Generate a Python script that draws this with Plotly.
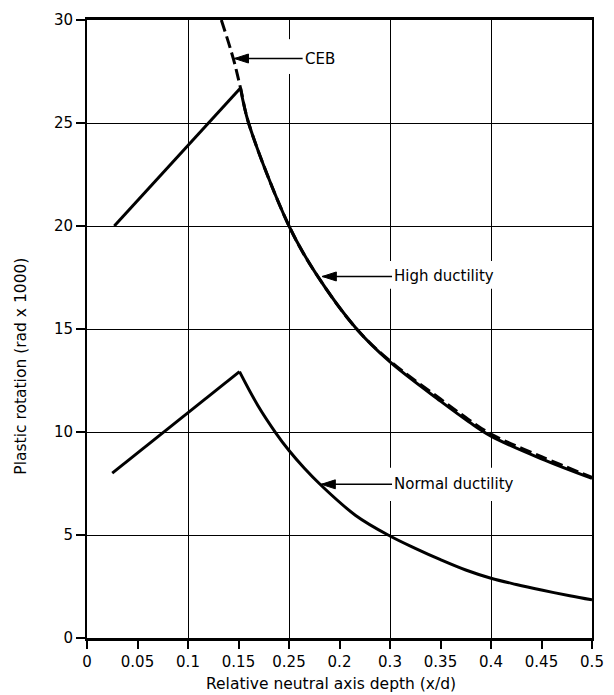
import plotly.graph_objects as go

# ---- data ----
high_rise_x = [0.027, 0.152]
high_rise_y = [20.0, 26.7]
high_fall_x = [0.152, 0.160, 0.200, 0.2265, 0.267, 0.300, 0.350, 0.378, 0.400, 0.450, 0.500]
high_fall_y = [26.7, 25.0, 20.0, 17.7, 15.0, 13.4, 11.5, 10.5, 9.8, 8.7, 7.75]

ceb_x = [0.133, 0.145, 0.152, 0.160, 0.200, 0.2265, 0.267, 0.300, 0.350, 0.378, 0.400, 0.450, 0.500]
ceb_y = [30.0, 28.1, 26.7, 25.0, 20.0, 17.7, 15.0, 13.45, 11.6, 10.6, 9.9, 8.8, 7.8]

normal_rise_x = [0.025, 0.151]
normal_rise_y = [8.0, 12.93]
normal_fall_x = [0.151, 0.169, 0.187, 0.200, 0.215, 0.231, 0.266, 0.300, 0.325, 0.350, 0.375, 0.400, 0.425, 0.450, 0.478, 0.500]
normal_fall_y = [12.93, 11.3, 9.95, 9.1, 8.25, 7.45, 5.95, 4.95, 4.35, 3.8, 3.3, 2.9, 2.6, 2.33, 2.05, 1.85]

x_tick_vals = [0, 0.05, 0.1, 0.15, 0.2, 0.25, 0.3, 0.35, 0.4, 0.45, 0.5]
x_tick_labels = ["0", "0.05", "0.1", "0.15", "0.25", "0.2", "0.3", "0.35", "0.4", "0.45", "0.5"]
x_grid_vals = [0.1, 0.2, 0.3, 0.4]
y_tick_vals = [0, 5, 10, 15, 20, 25, 30]

x_title = "Relative neutral axis depth (x/d)"
y_title = "Plastic rotation (rad x 1000)"

labels = ["CEB", "High ductility", "Normal ductility"]
label_heads_x = [0.146, 0.233, 0.232]
label_heads_y = [28.13, 17.55, 7.46]
label_text_x = [0.2135, 0.302, 0.302]

FONT = "DejaVu Sans"
solid = dict(color="black", width=3)

fig = go.Figure()
for xs, ys, shape in [(high_rise_x, high_rise_y, "linear"), (high_fall_x, high_fall_y, "spline"),
                      (normal_rise_x, normal_rise_y, "linear"), (normal_fall_x, normal_fall_y, "spline")]:
    fig.add_trace(go.Scatter(x=xs, y=ys, mode="lines", line=dict(solid, shape=shape),
                             showlegend=False, hoverinfo="skip"))
fig.add_trace(go.Scatter(x=ceb_x, y=ceb_y, mode="lines", xaxis="x2",
                         line=dict(color="black", width=3, dash="12px,5px", shape="spline"),
                         showlegend=False, hoverinfo="skip"))

# white gaps in the grid behind the labels
gap_boxes = [(0.19, 0.21, 27.38, 29.07), (0.29, 0.41, 16.95, 18.3), (0.29, 0.41, 6.65, 8.27)]
for x0, x1, y0, y1 in gap_boxes:
    fig.add_shape(type="rect", xref="x", yref="y", x0=x0, x1=x1, y0=y0, y1=y1,
                  fillcolor="white", line=dict(width=0), layer="between")

for txt, hx, hy, tx in zip(labels, label_heads_x, label_heads_y, label_text_x):
    fig.add_annotation(x=hx, y=hy, ax=tx, ay=hy, axref="x", ayref="y", xref="x", yref="y",
                       text=txt, xanchor="left", yanchor="middle", showarrow=True,
                       arrowhead=0, arrowwidth=1.6, arrowcolor="black", standoff=0,
                       font=dict(family=FONT, size=15, color="black"))
    fig.add_shape(type="path", xref="x", yref="y", xsizemode="pixel", ysizemode="pixel",
                  xanchor=hx, yanchor=hy, path="M0,0 L14,4.5 L14,-4.5 Z",
                  fillcolor="black", line=dict(color="black", width=1), layer="above")

# axis titles placed as in the reference
fig.add_annotation(xref="paper", yref="paper", x=0.4836, y=-0.0744, text=x_title,
                   showarrow=False, xanchor="center", yanchor="middle",
                   font=dict(family=FONT, size=15.5, color="black"))
fig.add_annotation(xref="paper", yref="paper", x=-0.1296, y=0.44, text=y_title, textangle=-90,
                   showarrow=False, xanchor="center", yanchor="middle",
                   font=dict(family=FONT, size=15.5, color="black"))

fig.update_layout(
    width=614, height=695,
    margin=dict(l=87, r=10, t=20, b=57),
    plot_bgcolor="white", paper_bgcolor="white",
    font=dict(family=FONT, size=15, color="black"),
    xaxis=dict(range=[0, 0.5], tickmode="array", tickvals=x_tick_vals, ticktext=x_tick_labels,
               ticks="outside", ticklen=8, tickwidth=1.5, tickcolor="black",
               showgrid=False, zeroline=False, showline=True, linewidth=2.5, linecolor="black",
               mirror=True, tickfont=dict(family=FONT, size=15, color="black")),
    xaxis2=dict(range=[0, 0.5], overlaying="x", anchor="y", side="bottom", tickmode="array",
                tickvals=x_grid_vals, showticklabels=False, ticks="", showgrid=True,
                gridcolor="black", gridwidth=1.3, zeroline=False, showline=False),
    yaxis=dict(range=[0, 30], tickmode="array", tickvals=y_tick_vals,
               ticks="outside", ticklen=9, tickwidth=1.5, tickcolor="black",
               showgrid=True, gridcolor="black", gridwidth=1.3, zeroline=False,
               showline=True, linewidth=2, linecolor="black", mirror=True,
               tickfont=dict(family=FONT, size=15, color="black")),
)

fig.write_html("out.html")
